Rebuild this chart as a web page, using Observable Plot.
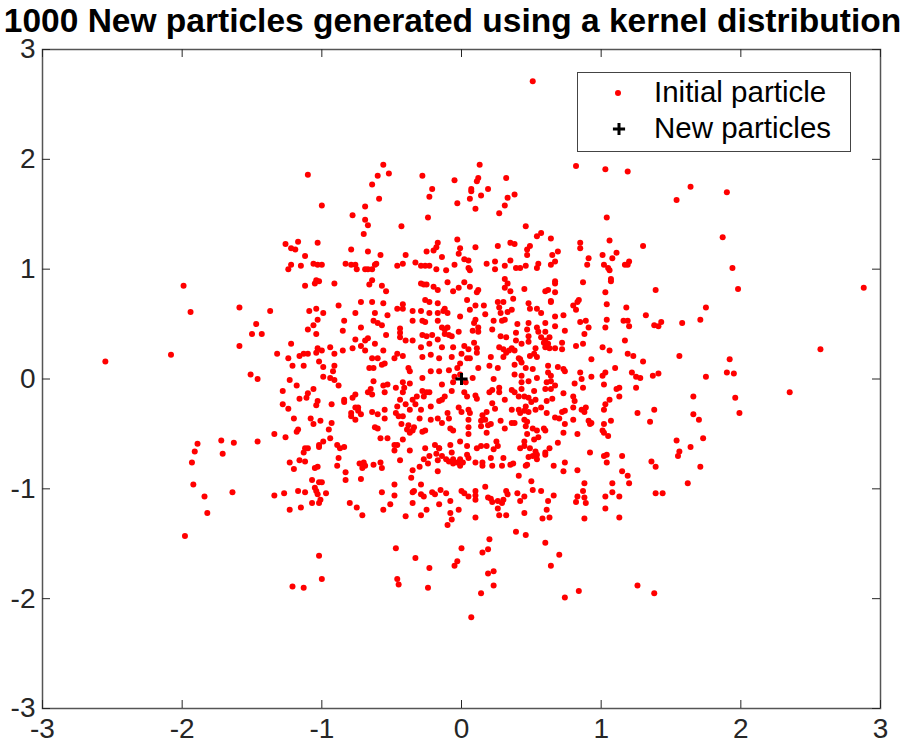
<!DOCTYPE html>
<html>
<head>
<meta charset="utf-8">
<script src="https://cdn.jsdelivr.net/npm/d3@7"></script>
<script src="https://cdn.jsdelivr.net/npm/@observablehq/plot@0.6"></script>
<style>
  html, body { margin: 0; padding: 0; background: #fff; }
  #wrap { position: relative; width: 917px; height: 751px; font-family: "Liberation Sans", Arial, Helvetica, sans-serif; }
  #legend { position: absolute; left: 577px; top: 72px; width: 272px; height: 78px; border: 1px solid #444; background: #fff; }
</style>
</head>
<body>
<div id="wrap"></div>
<script>
const titleText = "1000 New particles generated using a kernel distribution";
const legendLabels = ["Initial particle", "New particles"];
const xTicks = [-3, -2, -1, 0, 1, 2, 3];
const yTicks = [-3, -2, -1, 0, 1, 2, 3];
const newParticle = [0, 0];

// red particles, [x, y]
const outerParticles = [
[-1.10,1.86],[-1.00,1.58],[-0.78,1.49],[-0.69,1.57],[-0.69,1.45],
[0.51,2.71],[-0.56,1.95],[-0.60,1.85],[-0.52,1.87],[-0.64,1.77],[-0.59,1.64],[-0.67,1.40],[-0.43,1.39],[-0.28,1.85],[-0.21,1.73],[-0.23,1.66],[-0.24,1.47],[-0.05,1.81],[-0.03,1.60],[0.13,1.95],[0.12,1.83],[0.11,1.80],[0.07,1.73],[0.07,1.71],[0.14,1.67],[0.06,1.64],[0.10,1.55],[0.19,1.73],[0.32,1.83],[0.33,1.65],[0.38,1.68],[0.31,1.58],[0.27,1.51],[0.46,1.39],[0.82,1.94],[1.03,1.91],[1.19,1.89],[1.04,1.47],
[1.64,1.75],[1.54,1.63],[1.90,1.70],
[-2.55,0.16],[-2.08,0.22],[-1.99,0.85],[-1.94,0.61],[-1.59,0.65],[-1.59,0.30],[-1.37,0.62],[-1.47,0.50],[-1.50,0.41],[-1.43,0.41],[-1.32,0.23],[-1.22,0.32],[-1.24,0.19],[-1.21,0.12],[-1.51,0.04],[-1.46,0.00],[-1.23,-0.01],[-1.26,1.23],[-1.22,1.19],[-1.19,1.18],[-1.22,1.04],[-1.24,1.00],
[1.30,1.21],[1.87,1.29],[1.94,1.01],[1.98,0.82],[2.88,0.83],[1.39,0.81],[1.75,0.65],[1.32,0.58],[1.38,0.49],[1.41,0.48],[1.43,0.52],[1.58,0.51],[1.71,0.54],[2.57,0.27],[1.30,0.16],[1.56,0.21],[1.92,0.18],[1.28,0.01],[1.37,0.03],[1.41,0.05],[1.75,0.02],[1.90,0.06],[1.95,0.05],
[2.35,-0.12],[1.66,-0.16],[1.96,-0.17],[1.38,-0.28],[1.66,-0.32],[1.70,-0.37],[1.99,-0.31],[1.35,-0.39],[1.54,-0.56],[1.73,-0.54],[1.64,-0.62],[1.56,-0.66],[1.55,-0.70],[1.36,-0.75],[1.39,-0.80],[1.71,-0.80],[1.62,-0.95],[1.39,-1.04],[1.44,-1.04],
[-1.89,-0.59],[-1.91,-0.66],[-1.93,-0.76],[-1.92,-0.96],[-1.84,-1.07],[-1.82,-1.22],[-1.72,-0.56],[-1.71,-0.68],[-1.63,-0.58],[-1.64,-1.03],[-1.46,-0.57],[-1.34,-0.50],[-1.26,-0.53],[-1.18,-0.48],[-1.17,-0.46],[-1.20,-0.36],[-1.28,-0.23],[-1.24,-0.27],[-1.28,-0.11],[-1.18,-0.06],[-1.16,-0.18],[-1.23,-0.76],[-1.20,-0.82],[-1.16,-0.74],[-1.34,-1.06],[-1.27,-1.04],[-1.17,-1.02],[-1.23,-1.19],[-1.15,-1.17],
[-1.98,-1.43],[-1.02,-1.61],[-1.21,-1.89],[-1.13,-1.90],[-1.00,-1.82],[-0.47,-1.54],[-0.46,-1.82],[-0.45,-1.87],[-0.33,-1.63],[-0.23,-1.72],[-0.24,-1.90],[0.00,-1.54],[-0.03,-1.66],[-0.05,-1.70],[0.07,-2.17],[0.15,-1.58],[0.19,-1.55],[0.20,-1.46],[0.19,-1.77],[0.23,-1.75],[0.23,-1.88],[0.14,-1.95],[0.39,-1.39],[0.46,-1.42],[0.60,-1.49],[0.70,-1.60],[0.64,-1.70],[0.74,-1.99],[0.84,-1.93],[1.26,-1.88],[1.38,-1.95]
];

const upperLeftParticles = [
[-0.70,1.32],[-1.17,1.25],[-1.03,1.24],[-1.12,1.12],[-0.79,1.18],[-0.67,1.16],[-0.58,1.13],[-1.15,1.03],[-1.06,1.05],[-1.03,1.04],[-1.00,1.04],[-0.83,1.05],[-0.79,1.04],[-0.76,1.04],[-0.75,1.00],[-0.69,1.00],[-0.67,1.00],[-0.64,1.00],[-0.62,1.04],[-0.61,1.05],[-0.40,1.13],[-0.42,1.05],[-0.46,1.03],[-0.33,1.06],[-0.29,1.03],[-0.26,1.03],[-0.23,1.03],[-0.25,1.16],[-0.20,1.17],[-0.18,1.20],[-0.17,1.24],[-0.14,1.11],[-0.18,1.00],[-0.11,0.99],[-0.03,1.27],[-0.01,1.19],[-0.02,1.14],[0.02,1.09],[0.05,1.08],[-0.05,1.04],
[-1.12,0.85],[-1.05,0.87],[-1.04,0.90],[-1.02,0.89],[-0.91,0.87],[-0.66,0.86],[-0.64,0.90],[-0.57,0.85],[-0.54,0.80],[-0.29,0.87],[-0.27,0.86],[-0.25,0.86],[-0.20,0.84],[-0.17,0.81],[-0.10,0.88],[-0.06,0.80],[-0.02,0.83],[0.02,0.88],[0.04,0.72],
[-1.09,0.62],[-1.04,0.64],[-0.99,0.60],[-0.88,0.67],[-0.72,0.70],[-0.64,0.70],[-0.56,0.69],[-0.46,0.64],[-0.42,0.68],[-0.42,0.64],[-0.35,0.62],[-0.29,0.62],[-0.26,0.72],[-0.23,0.70],[-0.17,0.69],[-0.23,0.60],[-0.17,0.60],[-0.13,0.62],[-0.12,0.64],[-0.10,0.60],[-0.01,0.57],[0.06,0.63],
[-1.03,0.54],[-1.06,0.49],[-1.10,0.45],[-1.04,0.41],[-0.84,0.53],[-0.76,0.60],[-0.62,0.60],[-0.53,0.58],[-0.63,0.53],[-0.60,0.51],[-0.57,0.49],[-0.72,0.47],[-0.85,0.44],[-0.54,0.40],[-0.44,0.46],[-0.44,0.42],[-0.35,0.53],[-0.28,0.53],[-0.26,0.52],[-0.17,0.53],[-0.14,0.47],[-0.12,0.45],[-0.10,0.47],[-0.12,0.41],[-0.09,0.40],[-0.07,0.39],[-0.02,0.43],
[-0.76,0.36],[-0.69,0.35],[-0.67,0.37],[-0.62,0.32],[-0.72,0.30],[-0.78,0.28],[-0.44,0.38],[-0.40,0.35],[-0.35,0.35],[-0.28,0.40],[-0.25,0.39],[-0.21,0.40],[-0.17,0.36],[-0.29,0.29],[-0.23,0.32],[-0.14,0.29],[-0.06,0.29],[0.02,0.30],[0.05,0.27],
[-1.03,0.28],[-1.00,0.26],[-1.04,0.24],[-1.10,0.23],[-1.13,0.23],[-1.16,0.21],[-0.94,0.29],[-0.85,0.26],[-0.91,0.23],[-1.13,0.12],[-1.02,0.16],[-0.99,0.11],[-0.91,0.12],[-0.92,0.07],[-0.99,0.02],[-0.94,0.01],[-0.91,-0.01],
[-0.69,0.26],[-0.56,0.26],[-0.64,0.19],[-0.60,0.19],[-0.48,0.19],[-0.46,0.23],[-0.42,0.21],[-0.38,0.10],[-0.37,0.07],[-0.28,0.20],[-0.22,0.22],[-0.16,0.19],[-0.07,0.20],[0.00,0.23],[0.04,0.19],
[-0.66,0.10],[-0.63,0.10],[-0.55,0.14],[-0.57,0.13],[-0.28,0.01],[-0.22,0.07],[-0.16,0.07],[-0.09,0.08],[-0.03,0.10],[-0.01,0.14],[-0.05,0.02],[-0.01,0.04]
];

const upperRightParticles = [
[0.54,1.30],[0.57,1.33],[0.64,1.28],[0.10,1.20],[0.26,1.21],[0.35,1.24],[0.38,1.23],[0.47,1.18],[0.49,1.21],[0.47,1.13],[0.65,1.13],[0.69,1.16],[0.85,1.24],[0.85,1.19],[1.06,1.26],[1.11,1.15],[1.01,1.13],[1.08,1.10],[0.91,1.10],[0.90,1.04],[1.02,1.04],[1.05,1.01],[1.06,0.99],[1.17,1.04],[1.20,1.07],[1.19,1.04],
[0.05,1.01],[0.06,0.99],[0.18,1.05],[0.24,1.07],[0.24,1.00],[0.31,1.03],[0.35,1.08],[0.39,1.01],[0.42,1.01],[0.46,1.03],[0.54,1.01],[0.55,1.05],[0.64,1.04],[0.67,1.07],
[0.31,0.91],[0.33,0.87],[0.31,0.83],[0.35,0.80],[0.45,0.82],[0.60,0.80],[0.62,0.81],[0.67,0.89],[0.67,0.87],[0.67,0.79],[0.87,0.88],[1.07,0.91],[1.07,0.89],[1.03,0.79],
[0.12,0.81],[0.11,0.79],[0.06,0.84],
[0.10,0.67],[0.16,0.67],[0.17,0.59],[0.26,0.70],[0.30,0.70],[0.27,0.65],[0.28,0.60],[0.33,0.61],[0.36,0.63],[0.37,0.73],[0.48,0.69],[0.49,0.64],[0.54,0.64],[0.57,0.60],[0.64,0.70],[0.64,0.71],[0.73,0.58],[0.67,0.57],[0.60,0.51],[0.48,0.51],[0.47,0.45],[0.54,0.47],[0.55,0.43],[0.67,0.48],[0.74,0.44],[0.80,0.67],[0.83,0.70],[0.84,0.72],[0.82,0.63],[0.85,0.52],[0.89,0.53],[0.88,0.41],[0.91,0.47],[1.04,0.68],[1.04,0.54],[1.03,0.47],[1.18,0.65],[1.16,0.53],[1.19,0.53],[1.20,0.48],[1.17,0.35],
[0.10,0.54],[0.09,0.51],[0.12,0.47],[0.12,0.43],[0.08,0.44],[0.23,0.53],[0.29,0.53],[0.31,0.54],[0.22,0.45],[0.28,0.39],[0.32,0.38],[0.40,0.50],[0.39,0.42],[0.39,0.35],[0.43,0.32],[0.48,0.39],[0.48,0.34],[0.53,0.28],[0.57,0.38],[0.60,0.43],[0.60,0.35],[0.62,0.32],[0.63,0.38],[0.59,0.33],[0.60,0.29],[0.63,0.28],[0.67,0.28],[0.72,0.33],[0.72,0.27],[0.82,0.30],[0.87,0.32],[1.01,0.29],[1.06,0.26],[1.19,0.23],[1.23,0.21],
[0.09,0.33],[0.11,0.28],[0.11,0.24],[0.06,0.19],[0.27,0.29],[0.30,0.27],[0.32,0.24],[0.34,0.26],[0.36,0.28],[0.38,0.26],[0.30,0.20],[0.21,0.20],[0.20,0.12],[0.26,0.10],[0.12,0.10],[0.08,0.01],[0.41,0.19],[0.42,0.18],[0.43,0.15],[0.38,0.13],[0.49,0.21],[0.52,0.23],[0.54,0.20],[0.46,0.10],[0.51,0.09],[0.43,0.03],[0.38,0.04],[0.54,0.01],[0.62,0.12],[0.62,0.06],[0.64,0.03],[0.69,0.11],[0.73,0.09],[0.74,0.07],[0.85,0.06],[0.86,0.00],[0.93,0.02],[0.93,0.18],[1.01,0.03],[1.03,0.06],[1.10,0.10],[1.22,0.06],[1.25,0.02],[0.23,0.00]
];

const lowerLeftParticles = [
[-0.88,-0.06],[-1.06,-0.09],[-1.10,-0.13],[-1.11,-0.17],[-1.03,-0.20],[-1.04,-0.24],[-0.93,-0.23],[-0.84,-0.19],[-0.84,-0.21],[-0.76,-0.14],[-0.78,-0.17],[-0.63,-0.02],[-0.67,-0.12],[-0.65,-0.09],[-0.64,-0.14],[-0.56,-0.06],[-0.55,-0.12],[-0.53,-0.05],[-0.47,-0.08],[-0.42,-0.03],[-0.41,-0.08],[-0.42,-0.12],[-0.37,-0.04],[-0.28,-0.11],[-0.25,-0.12],[-0.23,-0.12],[-0.27,-0.16],[-0.32,-0.16],[-0.35,-0.19],[-0.44,-0.19],[-0.46,-0.25],[-0.40,-0.23],[-0.33,-0.23],[-0.29,-0.28],[-0.22,-0.25],[-0.14,-0.05],[-0.06,-0.03],[-0.07,-0.11],[-0.14,-0.19],[-0.12,-0.16],[-0.16,-0.20],[0.03,-0.03],[0.02,-0.12],[0.04,-0.16],
[-0.79,-0.31],[-0.76,-0.26],[-0.74,-0.26],[-0.74,-0.29],[-0.79,-0.34],[-0.76,-0.37],[-0.72,-0.32],[-0.64,-0.30],[-0.60,-0.32],[-0.55,-0.28],[-0.55,-0.36],[-0.47,-0.31],[-0.45,-0.34],[-0.42,-0.34],[-0.37,-0.28],[-0.38,-0.42],[-0.43,-0.41],[-0.34,-0.44],[-0.35,-0.47],[-0.37,-0.49],[-0.39,-0.46],[-0.30,-0.36],[-0.28,-0.48],[-0.26,-0.47],[-0.22,-0.37],[-0.17,-0.36],[-0.14,-0.40],[-0.10,-0.31],[-0.09,-0.36],[-0.02,-0.26],[0.00,-0.30],[0.05,-0.28],[0.05,-0.44],[0.05,-0.50],[-0.08,-0.45],[-0.06,-0.47],[-0.01,-0.57],[0.04,-0.61],[-0.08,-0.60],[-0.19,-0.60],[-0.16,-0.63],
[-1.08,-0.36],[-1.06,-0.41],[-1.01,-0.38],[-0.95,-0.46],[-0.93,-0.40],[-0.94,-0.54],[-0.99,-0.57],[-1.02,-0.60],[-1.02,-0.62],[-1.12,-0.63],[-1.10,-0.63],[-1.13,-0.67],[-0.89,-0.60],[-0.87,-0.63],[-0.84,-0.62],[-0.88,-0.72],
[-0.62,-0.44],[-0.60,-0.45],[-0.58,-0.54],[-0.53,-0.54],[-0.48,-0.60],[-0.46,-0.60],[-0.48,-0.65],[-0.42,-0.55],[-0.37,-0.65],[-0.26,-0.63],[-0.23,-0.70],[-0.27,-0.73],[-0.30,-0.80],[-0.24,-0.77],[-0.16,-0.63],[-0.18,-0.68],[-0.14,-0.70],[-0.17,-0.74],[-0.11,-0.73],[-0.09,-0.75],[-0.07,-0.67],[-0.06,-0.73],[-0.03,-0.76],[-0.01,-0.73],[0.01,-0.76],[0.04,-0.69],[0.05,-0.72],[-0.01,-0.79],[-0.06,-0.77],[-0.17,-0.84],
[-1.12,-0.75],[-1.05,-0.81],[-1.03,-0.80],[-0.89,-0.79],[-0.83,-0.85],[-0.83,-0.92],[-0.73,-0.77],[-0.70,-0.76],[-0.69,-0.79],[-0.71,-0.81],[-0.63,-0.78],[-0.58,-0.76],[-0.57,-0.81],[-0.44,-0.74],[-0.35,-0.83],[-0.36,-0.90],[-0.29,-0.96],[-0.29,-1.05],[-0.27,-1.07],[-0.35,-1.03],[-0.34,-1.02],[-0.48,-0.96],[-0.48,-1.06],[-0.57,-1.03],[-0.72,-0.91],
[-1.07,-0.92],[-1.02,-0.94],[-1.00,-0.94],[-1.05,-0.99],[-1.04,-1.02],[-1.03,-1.05],[-1.12,-1.03],[-0.97,-1.04],[-1.01,-1.10],[-1.02,-1.13],[-1.07,-1.13],[-0.80,-1.13],[-0.75,-1.17],[-0.71,-1.24],[-0.56,-1.19],[-0.51,-1.14],[-0.40,-1.25],[-0.35,-1.13],[-0.29,-1.24],[-0.25,-1.19],[-0.21,-1.03],[-0.19,-1.05],[-0.15,-1.01],[-0.11,-1.04],[0.00,-1.02],[0.02,-1.04],[0.05,-1.07],[-0.08,-1.11],[-0.16,-1.14],[-0.08,-1.22],[-0.02,-1.19],[-0.10,-1.33],[-0.07,-1.28]
];

const lowerRightParticles = [
[0.43,-0.03],[0.48,-0.02],[0.61,-0.03],[0.64,-0.02],[0.81,-0.04],[0.87,-0.08],[1.02,-0.05],[1.13,-0.08],[1.11,-0.09],[1.25,-0.08],
[0.10,-0.15],[0.11,-0.18],[0.22,-0.10],[0.20,-0.12],[0.27,-0.08],[0.27,-0.12],[0.31,-0.19],[0.36,-0.10],[0.38,-0.12],[0.41,-0.16],[0.43,-0.09],[0.45,-0.16],[0.48,-0.17],[0.52,-0.11],[0.53,-0.19],[0.60,-0.09],[0.64,-0.09],[0.67,-0.06],[0.65,-0.18],[0.61,-0.20],[0.73,-0.13],[0.80,-0.16],[0.81,-0.20],[0.80,-0.26],[0.86,-0.28],[0.88,-0.30],[0.89,-0.26],[1.02,-0.28],[1.03,-0.23],[1.06,-0.19],[1.13,-0.16],[1.26,-0.31],
[0.06,-0.31],[0.05,-0.37],[0.15,-0.33],[0.18,-0.30],[0.24,-0.27],[0.22,-0.22],[0.36,-0.28],[0.41,-0.28],[0.42,-0.31],[0.45,-0.29],[0.46,-0.25],[0.48,-0.30],[0.50,-0.21],[0.53,-0.28],[0.57,-0.26],[0.61,-0.31],[0.67,-0.35],[0.70,-0.36],[0.72,-0.30],[0.74,-0.29],[0.74,-0.41],[0.80,-0.37],[0.91,-0.38],[0.93,-0.40],[0.92,-0.41],[1.02,-0.41],[1.07,-0.38],[1.01,-0.47],[1.02,-0.49],[1.05,-0.52],
[0.14,-0.38],[0.17,-0.37],[0.19,-0.42],[0.14,-0.43],[0.21,-0.41],[0.28,-0.38],[0.31,-0.45],[0.36,-0.40],[0.38,-0.40],[0.45,-0.37],[0.47,-0.39],[0.46,-0.43],[0.51,-0.45],[0.54,-0.47],[0.59,-0.45],[0.60,-0.47],[0.55,-0.53],[0.52,-0.55],[0.47,-0.50],[0.45,-0.57],[0.45,-0.61],[0.42,-0.63],[0.49,-0.63],[0.53,-0.66],[0.54,-0.69],[0.51,-0.70],[0.48,-0.71],[0.54,-0.73],[0.60,-0.69],[0.63,-0.63],[0.69,-0.58],[0.73,-0.49],[0.83,-0.50],[0.74,-0.76],[0.73,-0.84],[0.66,-0.79],[0.60,-0.67],
[0.25,-0.57],[0.26,-0.61],[0.23,-0.64],[0.18,-0.49],[0.18,-0.61],[0.14,-0.61],[0.11,-0.63],[0.10,-0.76],[0.15,-0.76],[0.15,-0.79],[0.21,-0.72],[0.22,-0.79],[0.30,-0.72],[0.29,-0.79],[0.35,-0.78],[0.37,-0.77],[0.47,-0.78],[0.46,-0.79],[0.41,-0.88],[0.50,-0.93],[0.51,-1.01],[0.57,-1.02],[0.66,-1.06],[0.45,-1.07],[0.40,-1.04],[0.32,-1.02],[0.33,-1.05],[0.30,-1.10],[0.29,-1.13],[0.26,-1.11],[0.21,-1.09],[0.19,-1.08],[0.22,-1.12],[0.17,-0.98],[0.10,-1.02],[0.10,-1.06],[0.10,-1.10],[0.26,-1.18],[0.27,-1.24],[0.32,-1.24],[0.45,-1.22],[0.58,-1.27],[0.63,-1.26],[0.61,-1.19],[0.62,-1.11],[0.42,-1.11],[0.10,-1.26],
[0.83,-0.83],[0.88,-0.95],[0.87,-1.02],[0.83,-1.07],[0.89,-1.13],[0.88,-1.08],[0.82,-1.12],[0.92,-0.67],[1.02,-0.70],[1.04,-0.69],[1.04,-0.76],[1.15,-0.70],[1.15,-0.84],[1.19,-0.88],[1.20,-0.95],[1.08,-0.95],[1.08,-1.03],[1.03,-1.07],[1.13,-1.07],[1.03,-1.18],[1.13,-1.26],[0.88,-1.27]
];

const particles = [].concat(outerParticles, upperLeftParticles, upperRightParticles, lowerLeftParticles, lowerRightParticles);

const W = 917, H = 751;
const mL = 42, mR = 37, mT = 49, mB = 43;
const frameW = W - mL - mR, frameH = H - mT - mB;
const tickLen = 8;
const axisColor = "#262626";

const chart = Plot.plot({
  width: W,
  height: H,
  marginLeft: mL,
  marginRight: mR,
  marginTop: mT,
  marginBottom: mB,
  style: { fontFamily: "'Liberation Sans', Arial, Helvetica, sans-serif", fontSize: "28px", color: axisColor, background: "#fff", overflow: "visible" },
  x: { domain: [-3, 3] },
  y: { domain: [-3, 3] },
  marks: [
    Plot.frame({ stroke: "#555", strokeWidth: 1.5 }),
    Plot.tickX(xTicks, { x: d => d, insetTop: frameH - tickLen, stroke: axisColor }),
    Plot.tickX(xTicks, { x: d => d, insetBottom: frameH - tickLen, stroke: axisColor }),
    Plot.tickY(yTicks, { y: d => d, insetRight: frameW - tickLen, stroke: axisColor }),
    Plot.tickY(yTicks, { y: d => d, insetLeft: frameW - tickLen, stroke: axisColor }),
    Plot.axisX(xTicks, { tickSize: 0, tickPadding: 10, tickFormat: d => String(d), label: null }),
    Plot.axisY(yTicks, { tickSize: 0, tickPadding: 7, tickFormat: d => String(d), label: null }),
    Plot.dot(particles, { x: d => d[0], y: d => d[1], r: 3, fill: "#ff0000", stroke: "none" }),
    Plot.dot([newParticle], { x: d => d[0], y: d => d[1], symbol: "plus", r: 4, stroke: "#000", strokeWidth: 3 }),
    Plot.text([titleText], { text: d => d, frameAnchor: "top", dx: -9, dy: -18, lineAnchor: "bottom", fontSize: 33.5, fontWeight: "bold", fill: "#000" })
  ]
});

const wrap = document.getElementById("wrap");
wrap.appendChild(chart);

// legend
const legend = document.createElement("div");
legend.id = "legend";
const ns = "http://www.w3.org/2000/svg";
const lsvg = document.createElementNS(ns, "svg");
lsvg.setAttribute("width", 272);
lsvg.setAttribute("height", 78);
lsvg.style.display = "block";
const dot = document.createElementNS(ns, "circle");
dot.setAttribute("cx", 40); dot.setAttribute("cy", 20); dot.setAttribute("r", 3); dot.setAttribute("fill", "#ff0000");
lsvg.appendChild(dot);
const plus = document.createElementNS(ns, "path");
plus.setAttribute("d", d3.symbol(d3.symbolPlus, Math.PI * 16)());
plus.setAttribute("transform", "translate(41,56)");
plus.setAttribute("fill", "none"); plus.setAttribute("stroke", "#000"); plus.setAttribute("stroke-width", 3);
lsvg.appendChild(plus);
legendLabels.forEach((lab, i) => {
  const t = document.createElementNS(ns, "text");
  t.setAttribute("x", 76);
  t.setAttribute("y", 29 + i * 36);
  t.setAttribute("font-size", "29.5px");
  t.setAttribute("font-family", "'Liberation Sans', Arial, Helvetica, sans-serif");
  t.setAttribute("fill", "#000");
  t.textContent = lab;
  lsvg.appendChild(t);
});
legend.appendChild(lsvg);
wrap.appendChild(legend);
</script>
</body>
</html>
